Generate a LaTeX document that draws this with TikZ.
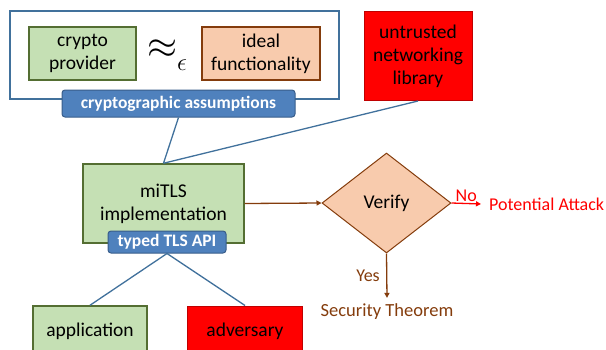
\documentclass[tikz,border=0pt]{standalone}
\usepackage{fontspec}
\setmainfont{Carlito}
\usetikzlibrary{shapes.geometric,arrows.meta}

\definecolor{boxgreen}{RGB}{197,224,180}
\definecolor{edgegreen}{RGB}{84,110,50}
\definecolor{boxorange}{RGB}{248,203,173}
\definecolor{edgebrown}{RGB}{132,60,12}
\definecolor{edgered}{RGB}{192,0,0}
\definecolor{tagblue}{RGB}{79,129,189}
\definecolor{edgeblue}{RGB}{56,93,138}
\definecolor{lineblue}{RGB}{65,113,156}

\begin{document}
\begin{tikzpicture}[x=1pt,y=-1pt,
    font=\fontsize{19.5}{23}\selectfont,
    greenbox/.style = {draw=edgegreen,fill=boxgreen,line width=1.5pt,align=center},
    orangebox/.style = {draw=edgebrown,fill=boxorange,line width=1.5pt,align=center},
    redbox/.style = {draw=edgered,fill=red,line width=1pt,align=center},
    tag/.style = {draw=edgeblue,fill=tagblue,text=white,rounded corners=3pt,
                  line width=1pt,font=\fontsize{17.5}{20}\selectfont\bfseries},
    link/.style = {lineblue,line width=1.3pt},
    arrow/.style = {edgebrown,line width=1.3pt,-{Triangle[length=5pt,width=5pt]}}]
    \clip (0,0) rectangle (606,349);

    % top frame
    \draw[lineblue,line width=1.5pt] (10,11) rectangle (339,99);
    \node[greenbox,minimum width=107,minimum height=53] (crypto)
        at (82.5,53.5) {crypto\\provider};
    \node[orangebox,minimum width=118,minimum height=53] (ideal)
        at (261,53.5) {ideal\\functionality};
    \node[inner sep=0pt] (approx) at (167,55)
        {\fontsize{24}{28}\selectfont\raisebox{4pt}{\scalebox{1.55}{$\approx$}}\raisebox{-8pt}{$\epsilon$}};
    \node[tag,minimum width=233,minimum height=27] (assume)
        at (178.5,103.5) {cryptographic assumptions};
    \node[redbox,minimum width=108,minimum height=89] (net)
        at (418,56) {untrusted\\networking\\library};

    % implementation
    \node[greenbox,minimum width=161,minimum height=79] (mitls)
        at (163.5,203.5) {miTLS\\implementation};
    \node[tag,minimum width=118,minimum height=22] (api)
        at (167,242) {typed TLS API};
    \draw[link] (assume.south) -- (mitls.north);
    \draw[link] (net.south) -- (mitls.north);

    % verification
    \node[diamond,draw=edgebrown,fill=boxorange,line width=1pt,
          minimum width=129,minimum height=100] (verify) at (386.5,203) {Verify};
    \node[text=red,anchor=west,inner sep=8pt,font=\fontsize{18}{22}\selectfont]
        (attack) at (481,204) {Potential Attack};
    \node[text=edgebrown,inner sep=6pt,font=\fontsize{18.5}{22}\selectfont]
        (thm) at (387,312) {Security Theorem};
    \draw[arrow] (mitls.east) -- (verify.west);
    \draw[arrow,red] (verify.east) -- (attack.west)
        node[midway,above=-2pt,font=\fontsize{18}{20}\selectfont] {No};
    \draw[arrow] (verify.south) -- (thm.north)
        node[midway,left=3pt,font=\fontsize{18}{20}\selectfont] {Yes};

    % users
    \node[greenbox,minimum width=114,minimum height=50] (app)
        at (90,331) {application};
    \node[redbox,minimum width=115,minimum height=50] (adv)
        at (245,331) {adversary};
    \draw[link] (api.south) -- (app.north);
    \draw[link] (api.south) -- (adv.north);
\end{tikzpicture}
\end{document}
